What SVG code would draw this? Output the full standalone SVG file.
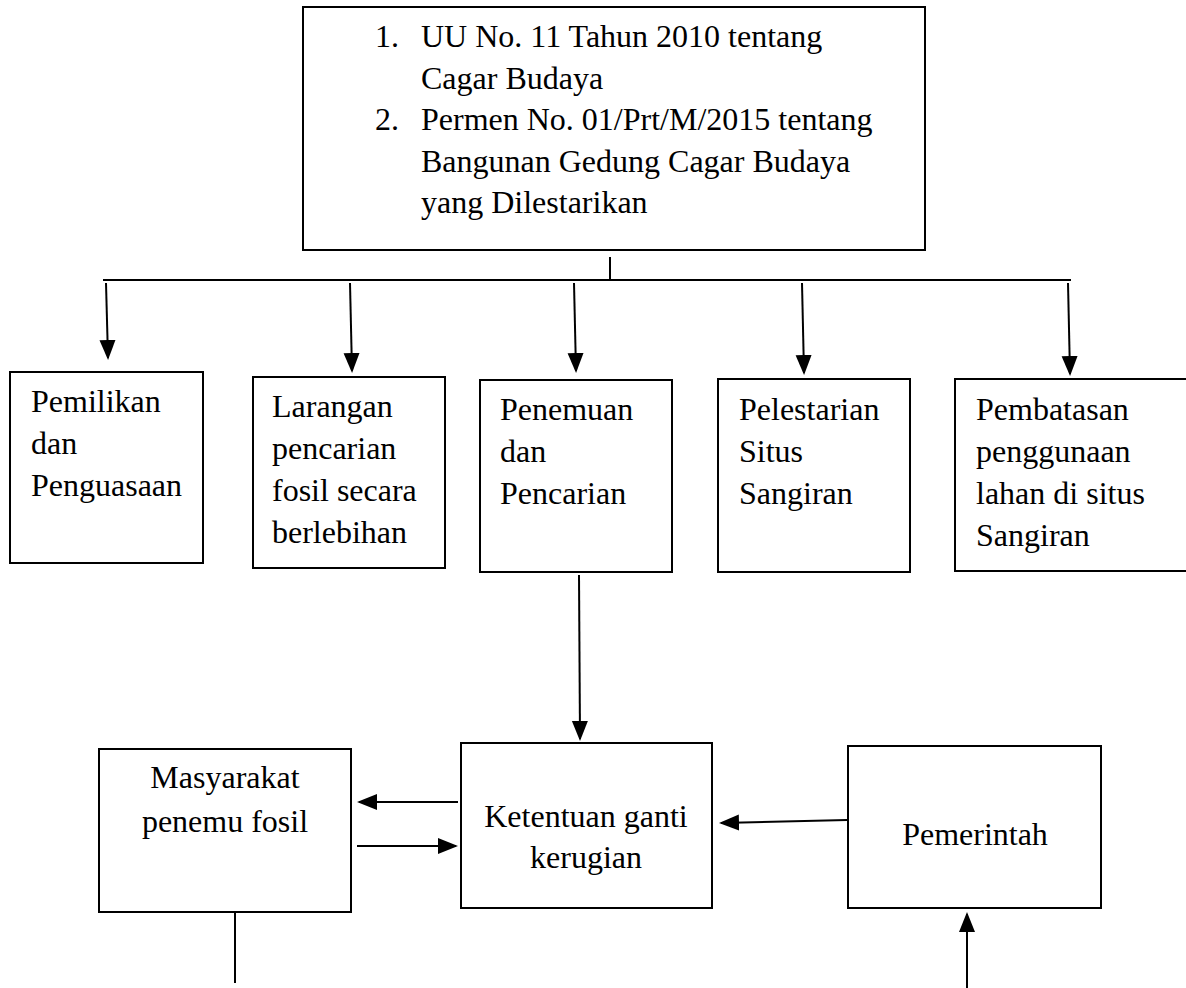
<svg xmlns="http://www.w3.org/2000/svg" width="1186" height="988" viewBox="0 0 1186 988">
<style>
.box{fill:#fff;stroke:#000;stroke-width:2}
text{font-family:'Liberation Serif','Times New Roman',serif;font-size:32px;fill:#000}
.c{text-anchor:middle}
.ln{stroke:#000;stroke-width:2;fill:none}
.ar{stroke:#000;stroke-width:2;fill:none;marker-end:url(#ah)}
</style>
<defs>
<marker id="ah" markerUnits="userSpaceOnUse" markerWidth="22" markerHeight="18" refX="18" refY="8" orient="auto">
<path d="M0,0 L20,8 L0,16 Z" fill="#000"/>
</marker>
</defs>
<rect width="1186" height="988" fill="#fff"/>

<g id="regulasi">
<rect class="box" x="303" y="7" width="622" height="243"/>
<text><tspan x="375" y="47">1.</tspan><tspan x="421" y="47">UU No. 11 Tahun 2010 tentang</tspan><tspan x="421" y="89">Cagar Budaya</tspan><tspan x="375" y="130">2.</tspan><tspan x="421" y="130">Permen No. 01/Prt/M/2015 tentang</tspan><tspan x="421" y="172">Bangunan Gedung Cagar Budaya</tspan><tspan x="421" y="213">yang Dilestarikan</tspan></text>
</g>

<g id="pemilikan">
<rect class="box" x="10" y="372" width="193" height="191"/>
<text><tspan x="31" y="412">Pemilikan</tspan><tspan x="31" y="454">dan</tspan><tspan x="31" y="496">Penguasaan</tspan></text>
</g>

<g id="larangan">
<rect class="box" x="253" y="377" width="192" height="191"/>
<text><tspan x="272" y="417">Larangan</tspan><tspan x="272" y="459">pencarian</tspan><tspan x="272" y="501">fosil secara</tspan><tspan x="272" y="543">berlebihan</tspan></text>
</g>

<g id="penemuan">
<rect class="box" x="480" y="380" width="192" height="192"/>
<text><tspan x="500" y="420">Penemuan</tspan><tspan x="500" y="462">dan</tspan><tspan x="500" y="504">Pencarian</tspan></text>
</g>

<g id="pelestarian">
<rect class="box" x="718" y="379" width="192" height="193"/>
<text><tspan x="739" y="420">Pelestarian</tspan><tspan x="739" y="462">Situs</tspan><tspan x="739" y="504">Sangiran</tspan></text>
</g>

<g id="pembatasan">
<rect class="box" x="955" y="379" width="240" height="192"/>
<text><tspan x="976" y="420">Pembatasan</tspan><tspan x="976" y="462">penggunaan</tspan><tspan x="976" y="504">lahan di situs</tspan><tspan x="976" y="546">Sangiran</tspan></text>
</g>

<g id="masyarakat">
<rect class="box" x="99" y="749" width="252" height="163"/>
<text class="c"><tspan x="225" y="788">Masyarakat</tspan><tspan x="225" y="832">penemu fosil</tspan></text>
</g>

<g id="ketentuan">
<rect class="box" x="461" y="743" width="251" height="165"/>
<text class="c"><tspan x="586" y="827">Ketentuan ganti</tspan><tspan x="586" y="868">kerugian</tspan></text>
</g>

<g id="pemerintah">
<rect class="box" x="848" y="746" width="253" height="162"/>
<text class="c"><tspan x="975" y="845">Pemerintah</tspan></text>
</g>

<g id="connectors">
<line class="ln" x1="610" y1="257" x2="610" y2="280"/>
<line class="ln" x1="103" y1="280" x2="1071" y2="280"/>
<line class="ar" x1="106" y1="283" x2="108" y2="358"/>
<line class="ar" x1="350" y1="283" x2="352" y2="371"/>
<line class="ar" x1="574" y1="283" x2="576" y2="371"/>
<line class="ar" x1="802" y1="283" x2="804" y2="373"/>
<line class="ar" x1="1068" y1="283" x2="1070" y2="374"/>
<line class="ar" x1="579" y1="575" x2="580" y2="739"/>
<line class="ar" x1="458" y1="802" x2="359" y2="802"/>
<line class="ar" x1="357" y1="846" x2="456" y2="846"/>
<line class="ar" x1="847" y1="820" x2="721" y2="823"/>
<line class="ln" x1="235" y1="912" x2="235" y2="983"/>
<line class="ar" x1="967" y1="988" x2="967" y2="914"/>
</g>
</svg>
